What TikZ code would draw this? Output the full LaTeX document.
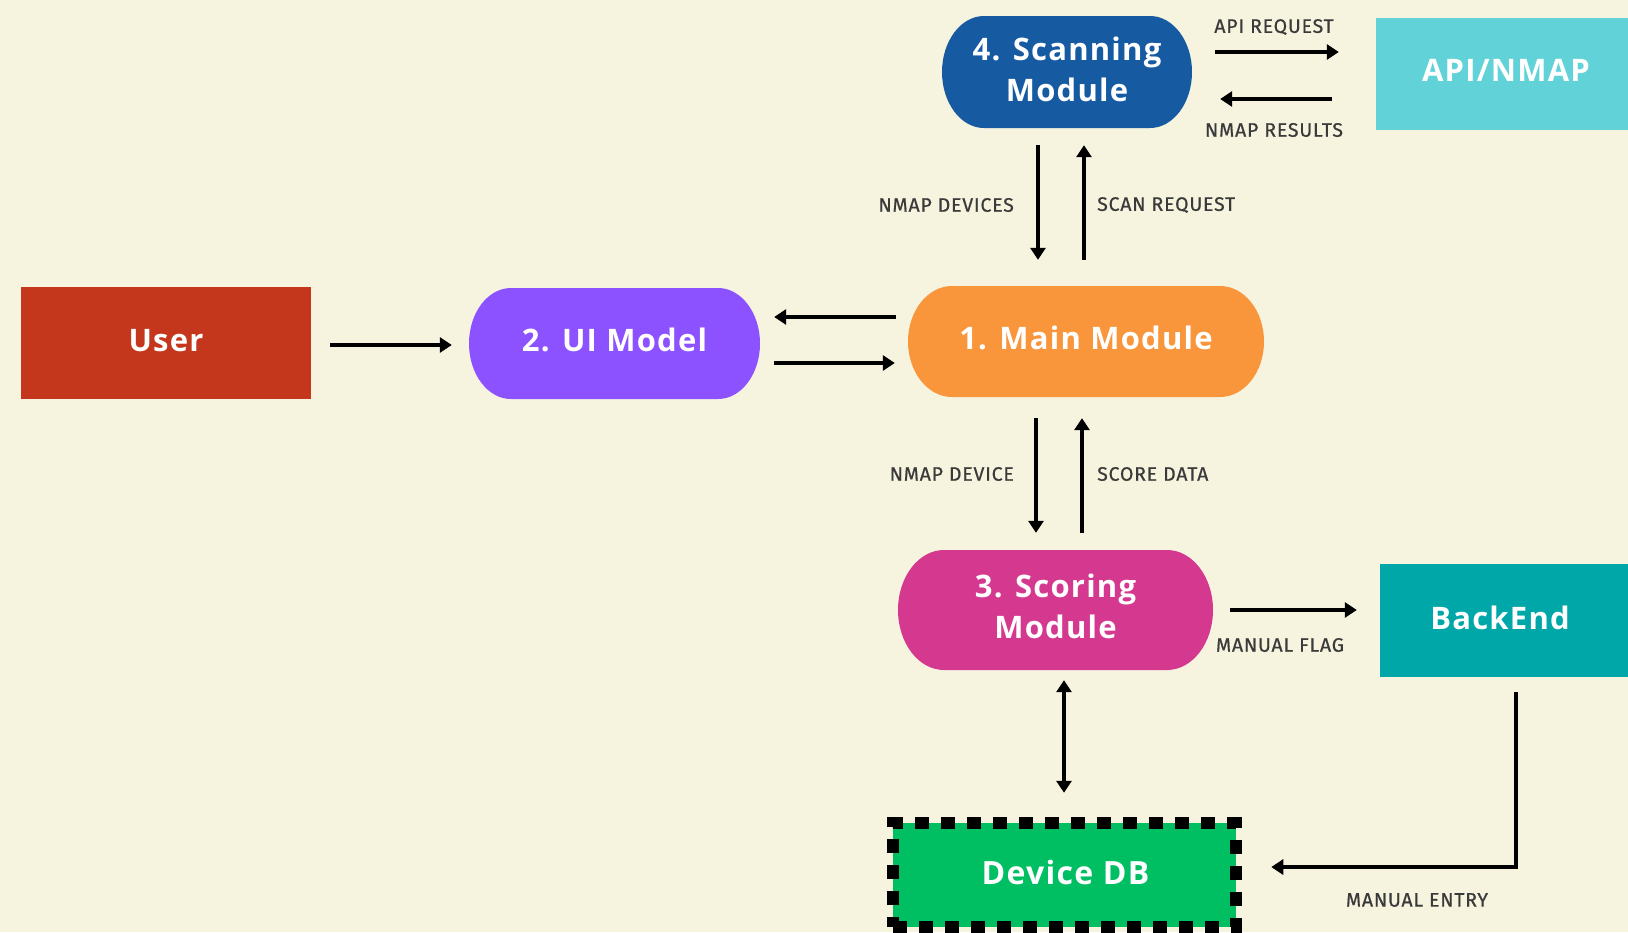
\documentclass[tikz,border=0pt]{standalone}
\usepackage{fontspec}
\setmainfont{Open Sans}
\newfontfamily\nodefont[LetterSpace=4]{Open Sans}
\newfontfamily\labfont[LetterSpace=4,FakeBold=0.6]{Fira Sans}
\usetikzlibrary{arrows.meta,calc}
\definecolor{bgc}{HTML}{F6F3DF}
\definecolor{userc}{HTML}{C4371C}
\definecolor{uic}{HTML}{8C52FF}
\definecolor{mainc}{HTML}{F9963B}
\definecolor{scanc}{HTML}{165BA1}
\definecolor{apic}{HTML}{61D3D8}
\definecolor{scorec}{HTML}{D4398F}
\definecolor{backc}{HTML}{00A7A9}
\definecolor{dbc}{HTML}{00BF63}
\definecolor{labc}{HTML}{3A3A3A}
\newcommand\mystadium[6]{%
  \fill[#6] ({#1-#3/2+#5},{#2-#4/2}) -- ({#1+#3/2-#5},{#2-#4/2})
    arc[start angle=-90,end angle=90,x radius=#5,y radius=#4/2]
    -- ({#1-#3/2+#5},{#2+#4/2})
    arc[start angle=90,end angle=270,x radius=#5,y radius=#4/2] -- cycle;}
\tikzset{
  txt/.style={inner sep=0pt, text=white, align=center,
    font=\nodefont\bfseries\fontsize{31}{41}\selectfont},
  shp/.style={inner sep=0pt},
  lab/.style={inner sep=0pt, text=labc, font=\labfont\fontsize{19.5}{22}\selectfont},
  arr/.style={line width=3.8pt, -{Triangle[length=12pt,width=15pt]}},
  darr/.style={line width=3.8pt, {Triangle[length=12pt,width=15pt]}-{Triangle[length=12pt,width=15pt]}},
}
\begin{document}
\begin{tikzpicture}[x=1pt,y=-1pt]
\useasboundingbox (0,0) rectangle (1628,932);
\fill[bgc] (0,0) rectangle (1628,932);

% stadium shapes
\mystadium{1067}{72}{250}{112}{42}{scanc}
\mystadium{614.5}{343.5}{291}{111}{42}{uic}
\mystadium{1086}{341.5}{356}{111}{44}{mainc}
\mystadium{1055.5}{610}{315}{120}{46}{scorec}

% nodes
\node[shp, minimum width=250pt, minimum height=112pt,
  label={[txt,yshift=3pt]center:{4. Scanning\\Module}}] (scan) at (1067,72) {};
\node[shp, fill=apic, minimum width=252pt, minimum height=112pt,
  label={[txt,yshift=3.5pt,xshift=4pt]center:{API/NMAP}}] (api) at (1502,74) {};
\node[shp, fill=userc, minimum width=290pt, minimum height=112pt,
  label={[txt,yshift=2.5pt]center:{User}}] (user) at (166,343) {};
\node[shp, minimum width=291pt, minimum height=111pt,
  label={[txt,yshift=4pt]center:{2. UI Model}}] (ui) at (614.5,343.5) {};
\node[shp, minimum width=356pt, minimum height=111pt,
  label={[txt,yshift=4pt]center:{1. Main Module}}] (main) at (1086,341.5) {};
\node[shp, minimum width=315pt, minimum height=120pt,
  label={[txt,yshift=3.5pt]center:{3. Scoring\\Module}}] (score) at (1055.5,610) {};
\node[shp, fill=backc, minimum width=248pt, minimum height=113pt,
  label={[txt,yshift=2.5pt,xshift=-4pt]center:{BackEnd}}] (back) at (1504,620.5) {};
\node[shp, fill=dbc, draw=black, line width=12.5pt, dash pattern=on 14pt off 12pt,
  minimum width=343pt, minimum height=104pt,
  label={[txt,yshift=3pt,xshift=1pt,font=\nodefont\bfseries\fontsize{32}{41}\selectfont]center:{Device DB}}] (db) at (1064.5,875) {};

% connectors
\draw[arr, shorten <=23pt, shorten >=37pt] ([yshift=20pt]scan.east) -- ([yshift=22pt]api.west);
\draw[arr, shorten <=44pt, shorten >=28pt] ([yshift=-25pt]api.west) -- ([yshift=-27pt]scan.east);
\draw[arr, shorten <=17pt, shorten >=26pt] ([xshift=-29pt]scan.south) -- ([xshift=-48pt]main.north);
\draw[arr, shorten <=26pt, shorten >=17pt] ([xshift=-2pt]main.north) -- ([xshift=17pt]scan.south);
\draw[arr, shorten <=19pt, shorten >=17pt] ([yshift=-2pt]user.east) -- ([yshift=-1.5pt]ui.west);
\draw[arr, shorten <=12pt, shorten >=14pt] ([yshift=24.5pt]main.west) -- ([yshift=26.5pt]ui.east);
\draw[arr, shorten <=14pt, shorten >=13pt] ([yshift=-19.5pt]ui.east) -- ([yshift=-21.5pt]main.west);
\draw[arr, shorten <=21pt, shorten >=17pt] ([xshift=-50pt]main.south) -- ([xshift=-19.5pt]score.north);
\draw[arr, shorten <=17pt, shorten >=21pt] ([xshift=26.5pt]score.north) -- ([xshift=-4pt]main.south);
\draw[arr, shorten <=17pt, shorten >=23pt] (score.east) -- ([yshift=10.5pt]back.west);
\draw[darr, shorten <=10pt, shorten >=24pt] ([xshift=8.5pt]score.south) -- ([xshift=-0.5pt]db.north);
\draw[arr, shorten <=15pt, shorten >=29pt] ([xshift=12pt]back.south) |- ([yshift=8pt]db.east);

% labels
\node[lab] (l1) at (1274,27) {API REQUEST};
\node[lab] (l2) at (1274,130) {NMAP RESULTS};
\node[lab, anchor=east] (l3) at (1014,205) {NMAP DEVICES};
\node[lab, anchor=west] (l4) at (1097,205) {SCAN REQUEST};
\node[lab, anchor=east] (l5) at (1014,474) {NMAP DEVICE};
\node[lab, anchor=west] (l6) at (1097,474) {SCORE DATA};
\node[lab] (l7) at (1280,645) {MANUAL FLAG};
\node[lab] (l8) at (1417,900) {MANUAL ENTRY};
\end{tikzpicture}
\end{document}
